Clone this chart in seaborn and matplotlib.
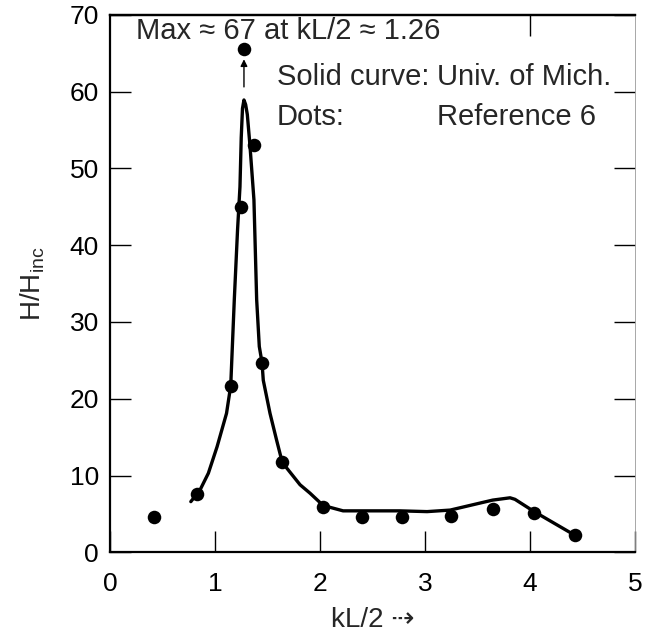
import matplotlib
matplotlib.use("Agg")
import matplotlib.pyplot as plt
import seaborn as sns
import pandas as pd

# Dots: Reference 6
dots_x = [0.42, 0.83, 1.15, 1.25, 1.28, 1.37, 1.45, 1.64, 2.03, 2.40, 2.78, 3.25, 3.65, 4.04, 4.43]
dots_y = [4.6, 7.6, 21.7, 45.0, 65.6, 53.0, 24.7, 11.7, 5.9, 4.6, 4.6, 4.7, 5.7, 5.1, 2.2]

# Solid curve: Univ. of Mich.
curve_x = [0.77, 0.857, 0.937, 1.02, 1.11, 1.15, 1.184, 1.215, 1.238, 1.25, 1.262,
           1.276, 1.292, 1.308, 1.333, 1.371, 1.397, 1.422, 1.448, 1.46, 1.524,
           1.587, 1.641, 1.81, 1.905, 2.03, 2.22, 2.44, 2.76, 3.02, 3.24, 3.52,
           3.645, 3.81, 3.857, 4.04, 4.43]
curve_y = [6.6, 8.1, 10.3, 13.75, 18.1, 21.7, 32.9, 42.0, 47.6, 54.0, 57.8,
           58.9, 58.3, 57.0, 53.0, 45.9, 32.9, 26.8, 24.7, 22.4, 18.1,
           14.6, 11.7, 8.8, 7.7, 6.1, 5.4, 5.4, 5.4, 5.3, 5.5, 6.4,
           6.8, 7.1, 6.9, 5.3, 2.2]

x_ticks = [0, 1, 2, 3, 4, 5]
y_ticks = [0, 10, 20, 30, 40, 50, 60, 70]
top_ticks = [4]

sns.set_theme(style="ticks")
plt.rcParams['font.family'] = ['Liberation Sans', 'DejaVu Sans']
plt.rcParams['mathtext.default'] = 'regular'

fig = plt.figure(figsize=(6.45, 6.4), dpi=100)
ax = fig.add_axes([0.1705, 0.137, 0.8140, 0.840])

curve = pd.DataFrame({"x": curve_x, "y": curve_y})
dots = pd.DataFrame({"x": dots_x, "y": dots_y})
sns.lineplot(data=curve, x="x", y="y", sort=False, color="black", lw=2.4, ax=ax)
sns.scatterplot(data=dots, x="x", y="y", color="black", s=95, edgecolor="black",
                linewidth=0, ax=ax, zorder=3)
ax.lines[0].set_solid_joinstyle("round")
ax.lines[0].set_solid_capstyle("round")

ax.set_xlim(0, 5)
ax.set_ylim(0, 70)
ax.set_xticks(x_ticks)
ax.set_yticks(y_ticks)
ax.set_xticklabels([str(v) for v in x_ticks])
ax.set_yticklabels([str(v) for v in y_ticks])
ax.tick_params(axis="both", which="major", direction="in", length=15, width=1.0,
               labelsize=19, colors="black", top=False, right=True)
ax.tick_params(axis="x", pad=14)
ax.tick_params(axis="y", pad=8)

sec = ax.secondary_xaxis("top")
sec.set_xticks(top_ticks)
sec.set_xticklabels([])
sec.tick_params(direction="in", length=15, width=1.0, colors="black")
sec.spines["top"].set_linewidth(1.6)
sec.spines["top"].set_color("black")

for s in ["left", "bottom", "top"]:
    ax.spines[s].set_linewidth(1.6)
    ax.spines[s].set_color("black")
ax.spines["right"].set_linewidth(0.6)
ax.spines["right"].set_color("#999999")

ax.set_xlabel("kL/2 ⇢", fontsize=20, labelpad=8)
ax.set_ylabel("H/H$_{inc}$", fontsize=20, labelpad=16)

fs = 21
ax.text(0.25, 66.8, "Max ≈ 67 at kL/2 ≈ 1.26", fontsize=fs, ha="left", va="baseline")
ax.text(1.59, 60.8, "Solid curve:", fontsize=fs, ha="left", va="baseline")
ax.text(3.11, 60.8, "Univ. of Mich.", fontsize=fs, ha="left", va="baseline")
ax.text(1.59, 55.7, "Dots:", fontsize=fs, ha="left", va="baseline")
ax.text(3.11, 55.7, "Reference 6", fontsize=fs, ha="left", va="baseline")

ax.annotate("", xy=(1.276, 64.2), xytext=(1.276, 60.6),
            arrowprops=dict(arrowstyle="-|>", color="black", lw=1.0,
                            mutation_scale=10, shrinkA=0, shrinkB=0))

fig.savefig("out.png", dpi=100)
